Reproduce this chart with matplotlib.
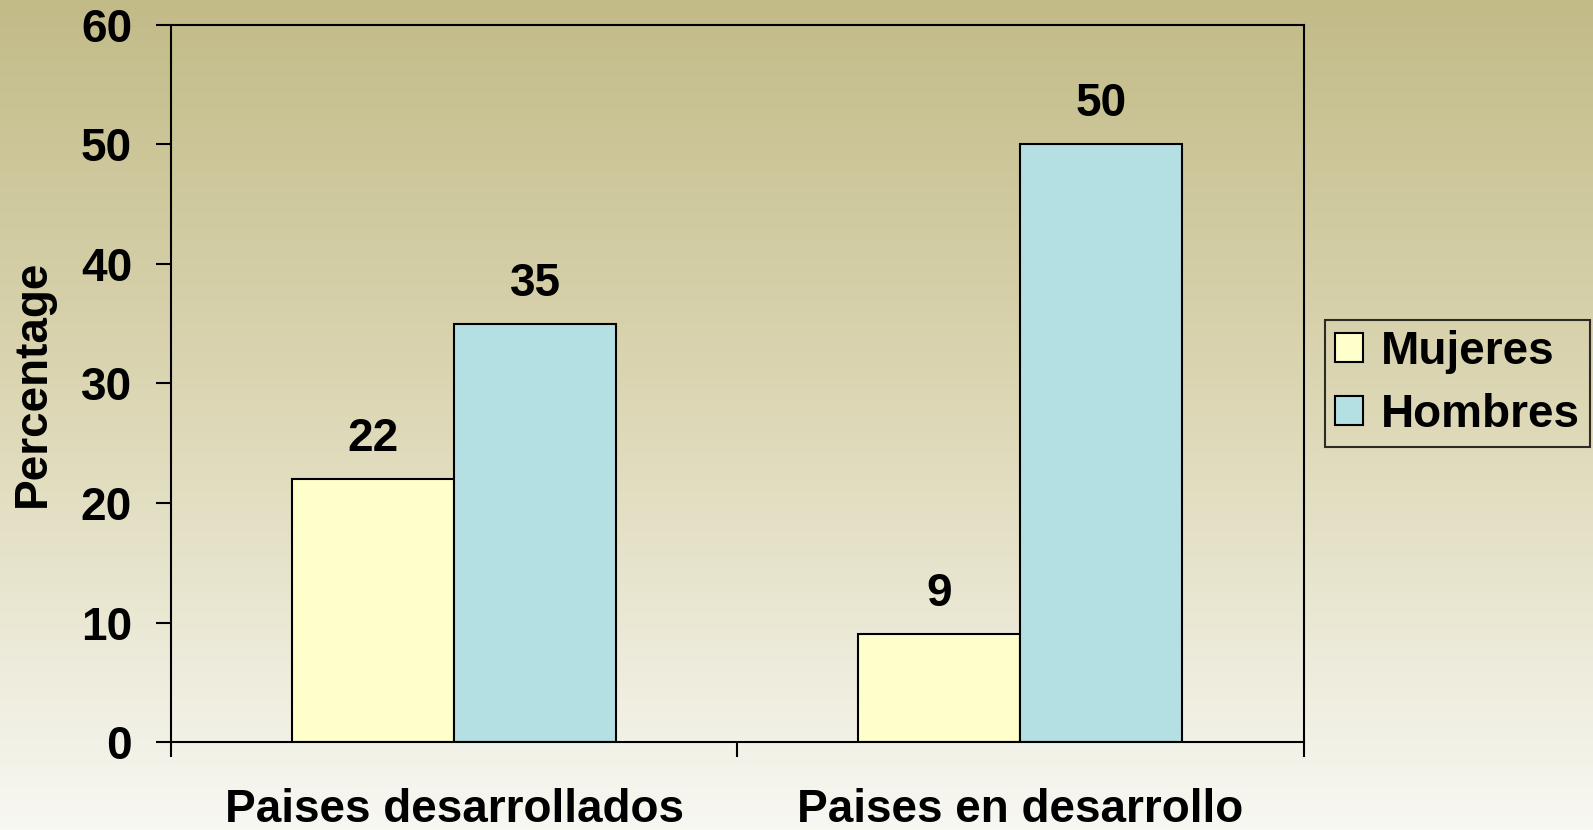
import numpy as np
import matplotlib
matplotlib.use('Agg')
import matplotlib.pyplot as plt
from matplotlib.colors import LinearSegmentedColormap

plt.rcParams['font.family'] = ['Liberation Sans', 'DejaVu Sans']
plt.rcParams['font.weight'] = 'bold'

categorias = ['Paises desarrollados', 'Paises en desarrollo']
series = ['Mujeres', 'Hombres']
mujeres = [22, 9]
hombres = [35, 50]
colores = ['#ffffcc', '#b4e0e4']

fig = plt.figure(figsize=(15.93, 8.30), dpi=100)

# fondo degradado
bg = fig.add_axes([0, 0, 1, 1], zorder=-10)
cmap = LinearSegmentedColormap.from_list('fondo', ['#c2bb88', '#ddd8b6', '#f8f8f3'])
grad = np.linspace(0, 1, 256).reshape(-1, 1)
bg.imshow(grad, aspect='auto', cmap=cmap, extent=[0, 1, 0, 1], origin='upper')
bg.axis('off')

ax = fig.add_axes([0.1073, 0.106, 0.7110, 0.864])
ax.set_facecolor('none')

x = np.arange(len(categorias))
w = 0.286
b1 = ax.bar(x - w / 2, mujeres, w, color=colores[0], edgecolor='black', linewidth=1.5, label=series[0])
b2 = ax.bar(x + w / 2, hombres, w, color=colores[1], edgecolor='black', linewidth=1.5, label=series[1])

for barras in (b1, b2):
    for r in barras:
        ax.annotate(str(int(r.get_height())), (r.get_x() + r.get_width() / 2, r.get_height()),
                    xytext=(0, 13), textcoords='offset points', ha='center', va='bottom',
                    fontsize=33, fontweight='bold')

ax.set_xlim(-0.5, 1.5)
ax.set_ylim(0, 60)
ax.set_yticks(range(0, 61, 10))
ax.set_xticks(x)
ax.set_xticklabels(categorias)
ax.set_xticks([-0.5, 0.5, 1.5], minor=True)
ax.tick_params(axis='x', which='major', length=0, pad=33, labelsize=33)
ax.tick_params(axis='x', which='minor', length=11, width=1.5, direction='out')
ax.tick_params(axis='y', length=11, width=1.5, direction='out', pad=17, labelsize=33)
for s in ax.spines.values():
    s.set_linewidth(1.5)

ax.set_ylabel('Percentage', fontsize=33, fontweight='bold', labelpad=19)

leg = ax.legend(loc='center left', bbox_to_anchor=(1.019, 0.5), fontsize=33, frameon=True,
                fancybox=False, edgecolor='black', facecolor='none', handlelength=0.6,
                handleheight=0.6, handletextpad=0.4, borderpad=0.22, labelspacing=0.42,
                borderaxespad=0)
leg.get_frame().set_linewidth(1.5)

fig.savefig('out.png', dpi=100)
